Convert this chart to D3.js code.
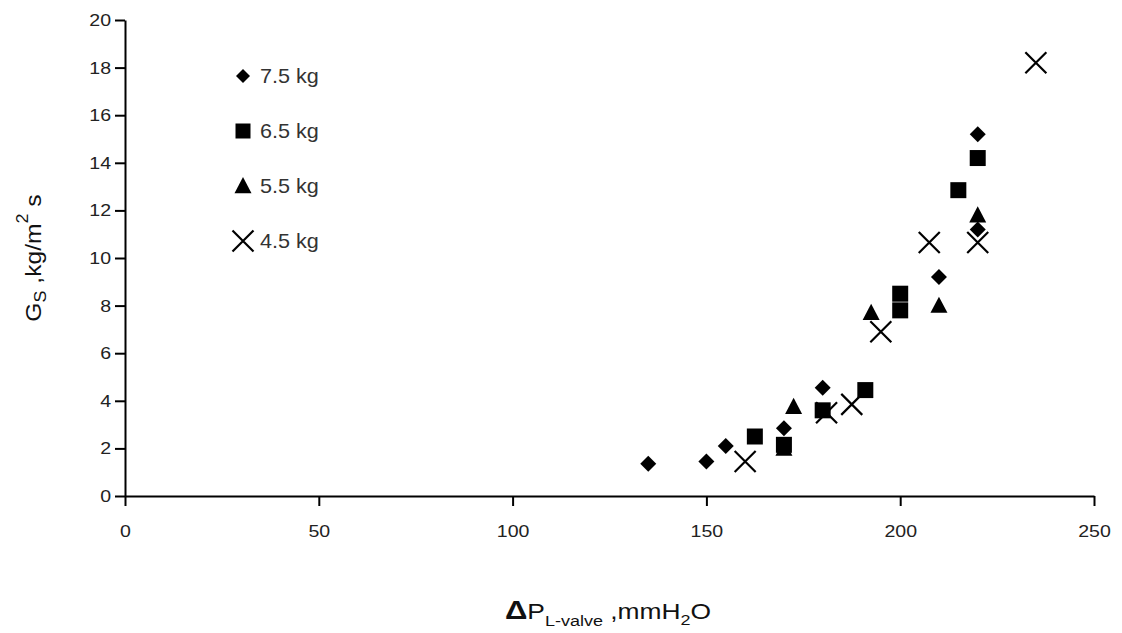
<!DOCTYPE html>
<html>
<head>
<meta charset="utf-8">
<script src="https://cdn.jsdelivr.net/npm/d3@7"></script>
<style>
  body { margin: 0; background: #fff; }
  svg { display: block; font-family: "Liberation Sans", Arial, sans-serif; }
</style>
</head>
<body>
<svg id="chart" width="1122" height="633"></svg>
<script>
// tick values
const xTicks = [0, 50, 100, 150, 200, 250];
const yTicks = [0, 2, 4, 6, 8, 10, 12, 14, 16, 18, 20];

// series: [dP L-valve (mmH2O), Gs (kg/m2 s)]
const seriesNames = ['7.5 kg', '6.5 kg', '5.5 kg', '4.5 kg'];
const data75 = [[135, 1.35], [150, 1.45], [155, 2.1], [170, 2.85], [180, 4.55], [210, 9.2], [220, 11.2], [220, 15.2]];
const data65 = [[162.5, 2.5], [170, 2.15], [180, 3.6], [191, 4.45], [200, 7.8], [200, 8.5], [215, 12.85], [220, 14.2]];
const data55 = [[170, 2.0], [172.5, 3.75], [192.5, 7.7], [210, 8.0], [220, 11.8]];
const data45 = [[160, 1.45], [181, 3.5], [187.5, 3.85], [195, 6.9], [207.5, 10.65], [220, 10.65], [235, 18.2]];

const svg = d3.select('#chart');
const x = d3.scaleLinear().domain([0, 250]).range([125, 1094]);
const y = d3.scaleLinear().domain([0, 20]).range([496, 20]);
const stretch = 1.15; // text in the scan is a bit wider than normal Arial

// marker shapes, r = half size
const shapes = {
  diamond: r => `M0,${-r}L${r},0L0,${r}L${-r},0Z`,
  square: r => `M${-r},${-r}H${r}V${r}H${-r}Z`,
  triangle: r => `M0,${-r * 1.05}L${r},${r * 0.85}L${-r},${r * 0.85}Z`,
  cross: r => `M${-r},${-r}L${r},${r}M${r},${-r}L${-r},${r}`
};
const series = [
  { name: seriesNames[0], values: data75, shape: 'diamond', r: 8, lr: 7 },
  { name: seriesNames[1], values: data65, shape: 'square', r: 8, lr: 7.5 },
  { name: seriesNames[2], values: data55, shape: 'triangle', r: 8.5, lr: 8.5 },
  { name: seriesNames[3], values: data45, shape: 'cross', r: 10.5, lr: 10.5 }
];

function drawMarker(sel, s, r) {
  const p = sel.append('path').attr('d', shapes[s.shape](r));
  if (s.shape === 'cross') {
    p.attr('fill', 'none').attr('stroke', '#000').attr('stroke-width', 2.2);
  } else {
    p.attr('fill', '#000');
  }
}

// axes
const xAxis = svg.append('g')
  .attr('transform', `translate(0,${y(0)})`)
  .call(d3.axisBottom(x).tickValues(xTicks).tickSize(10).tickSizeOuter(0).tickPadding(19));
const yAxis = svg.append('g')
  .attr('transform', `translate(${x(0)},0)`)
  .call(d3.axisLeft(y).tickValues(yTicks).tickSize(10).tickSizeOuter(0).tickPadding(4));
[xAxis, yAxis].forEach(a => {
  a.select('.domain').attr('stroke', '#000').attr('stroke-width', 2);
  a.selectAll('.tick line').attr('stroke', '#000').attr('stroke-width', 2);
  a.selectAll('.tick text').attr('fill', '#222').style('font-size', '17px');
});
yAxis.selectAll('.tick text')
  .attr('x', -14 / stretch)
  .attr('transform', `scale(${stretch},1)`);
xAxis.selectAll('.tick text').attr('transform', `scale(${stretch},1)`);

// points
series.forEach(s => {
  svg.append('g').selectAll('g')
    .data(s.values)
    .join('g')
    .attr('transform', d => `translate(${x(d[0])},${y(d[1])})`)
    .each(function () { drawMarker(d3.select(this), s, s.r); });
});

// legend
const legend = svg.append('g').attr('transform', 'translate(243,76)');
series.forEach((s, i) => {
  const row = legend.append('g').attr('transform', `translate(0,${i * 55})`);
  drawMarker(row, s, s.lr);
  row.append('text')
    .attr('transform', `translate(17,7) scale(1.08,1)`)
    .attr('fill', '#333')
    .style('font-size', '20px')
    .text(s.name);
});

// y axis title
const yTitle = svg.append('text')
  .attr('transform', 'translate(41,258) rotate(-90) scale(1.12,1)')
  .attr('text-anchor', 'middle')
  .attr('fill', '#111')
  .style('font-size', '22px');
yTitle.append('tspan').text('G');
yTitle.append('tspan').attr('dy', 5).style('font-size', '16px').text('S');
yTitle.append('tspan').attr('dy', -5).text(' ,kg/m');
yTitle.append('tspan').attr('dy', -13).style('font-size', '16px').text('2');
yTitle.append('tspan').attr('dy', 13).text(' s');

// x axis title
const xTitle = svg.append('text')
  .attr('transform', 'translate(608,619) scale(1.2,1)')
  .attr('text-anchor', 'middle')
  .attr('fill', '#111')
  .style('font-size', '22px');
xTitle.append('tspan').style('font-weight', 'bold').style('font-size', '26px').text('Δ');
xTitle.append('tspan').text('P');
xTitle.append('tspan').attr('dy', 7).style('font-size', '15px').text('L-valve');
xTitle.append('tspan').attr('dy', -7).text(' ,mmH');
xTitle.append('tspan').attr('dy', 6).style('font-size', '15px').text('2');
xTitle.append('tspan').attr('dy', -6).text('O');
</script>
</body>
</html>
